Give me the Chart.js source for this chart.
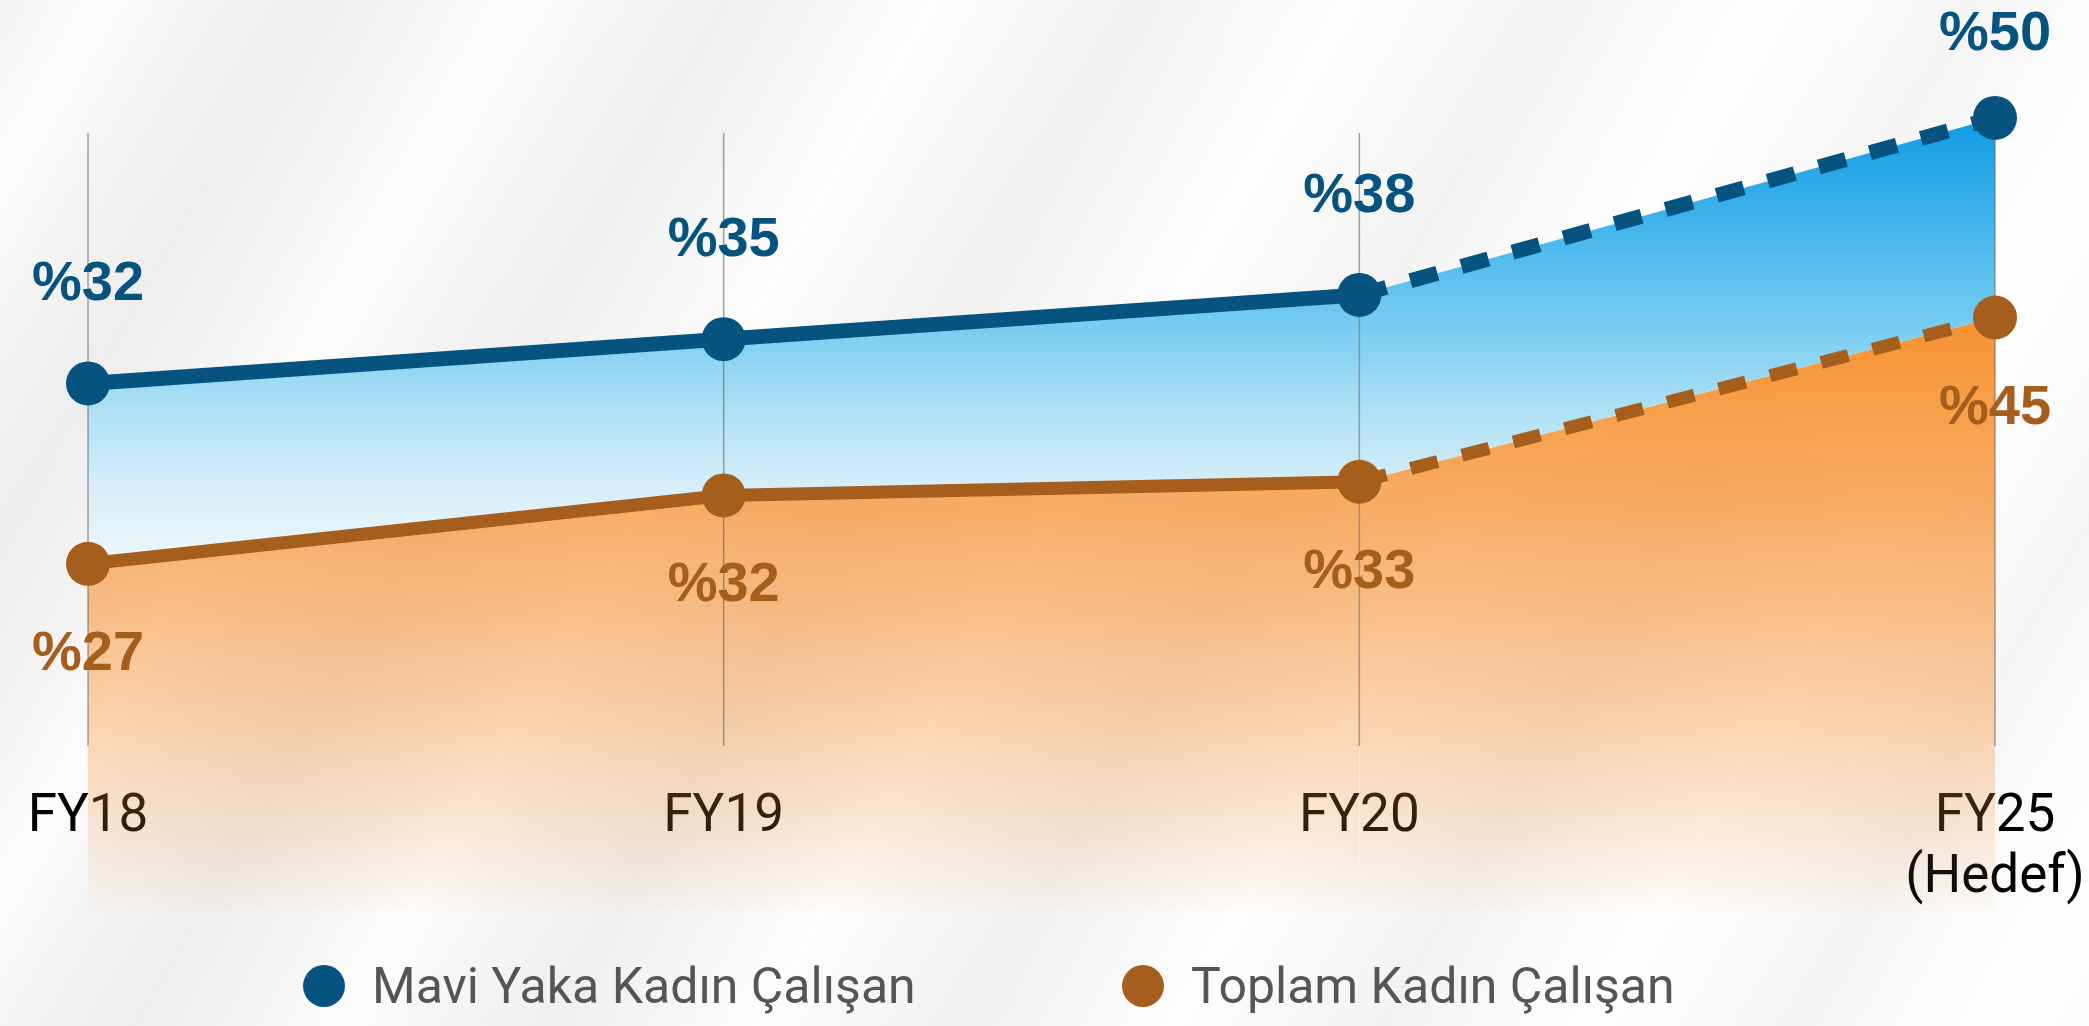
<!DOCTYPE html>
<html>
<head>
    <title>Kadın Çalışan Oranı</title>
    <script src="https://cdn.jsdelivr.net/npm/chart.js"></script>
    <style>
        body { margin: 0; background: #f7f7f7; }
        #wrap {
            position: relative; width: 2089px; height: 1026px; overflow: hidden;
            background-color: #f6f6f6;
            background-image:
                repeating-linear-gradient(120deg, rgba(255,255,255,0) 0px, rgba(255,255,255,0.75) 90px, rgba(255,255,255,0) 180px, rgba(0,0,0,0.022) 270px, rgba(255,255,255,0) 360px),
                linear-gradient(90deg, #f3f3f3, #fbfbfb);
        }
        #chartBox { position: absolute; left: 0; top: 0; width: 2089px; height: 1026px; }
        .legend-item {
            position: absolute; top: 959px; height: 54px;
            display: flex; align-items: center;
            font-family: Roboto, sans-serif; font-size: 50px; line-height: 54px; color: #555;
            white-space: nowrap;
        }
        .legend-dot { width: 42px; height: 42px; border-radius: 50%; margin-right: 27px; }
    </style>
</head>
<body>
    <div id="wrap">
        <div id="chartBox"><canvas id="lineChart"></canvas></div>
        <div id="legend"></div>
    </div>

    <script>
        const years = ['FY18', 'FY19', 'FY20', ['FY25', '(Hedef)']];
        const maviYaka = [32, 35, 38, 50];
        const toplamKadin = [27, 32, 33, 45];
        const seriesNames = ['Mavi Yaka Kadın Çalışan', 'Toplam Kadın Çalışan'];

        const BLUE = '#06537f';
        const BROWN = '#a55e1b';

        // segment into a target year is dashed
        function isTarget(i) {
            const l = years[i];
            return Array.isArray(l) && l.includes('(Hedef)');
        }

        function vGradient(chart, stops) {
            const { ctx, chartArea } = chart;
            if (!chartArea) return 'transparent';
            const g = ctx.createLinearGradient(0, chartArea.top, 0, chartArea.bottom);
            stops.forEach(s => g.addColorStop(s[0], s[1]));
            return g;
        }

        const blueStops = [
            [0, '#0996df'], [0.111, '#129ce3'], [0.211, '#3ab1ea'], [0.322, '#6cc8f0'],
            [0.433, '#ace0f5'], [0.522, '#d6eef9'], [0.622, '#f2f9fc'], [1, '#ffffff']
        ];
        const orangeStops = [
            [0, 'rgba(244,140,38,1)'], [0.333, 'rgba(246,146,48,1)'], [0.544, 'rgba(247,150,58,0.78)'],
            [0.678, 'rgba(247,150,60,0.58)'], [0.8, 'rgba(247,150,60,0.38)'],
            [0.911, 'rgba(247,150,60,0.18)'], [1, 'rgba(247,150,60,0.02)']
        ];

        // thin vertical lines, drawn over the fills but under lines/points
        const gridLines = {
            id: 'gridLines',
            beforeDatasetsDraw(chart) {
                const xs = chart.scales.x;
                const c = chart.ctx;
                c.save();
                c.strokeStyle = 'rgba(100,100,100,0.6)';
                c.lineWidth = 1.5;
                xs.ticks.forEach((t, i) => {
                    const px = xs.getPixelForTick(i);
                    c.beginPath();
                    c.moveTo(px, 133);
                    c.lineTo(px, 746);
                    c.stroke();
                });
                c.restore();
            }
        };

        const valueLabels = {
            id: 'valueLabels',
            afterDatasetsDraw(chart) {
                const c = chart.ctx;
                c.save();
                c.font = 'bold 56px "Liberation Sans", Arial, sans-serif';
                c.textAlign = 'center';
                c.textBaseline = 'alphabetic';
                chart.data.datasets.forEach((ds, di) => {
                    const meta = chart.getDatasetMeta(di);
                    c.fillStyle = ds.borderColor;
                    meta.data.forEach((pt, i) => {
                        const y = ds.labelSide === 'above' ? Math.max(pt.y - 83, 50) : pt.y + 106;
                        c.fillText('%' + ds.data[i], pt.x, y);
                    });
                });
                c.restore();
            }
        };

        function makeDataset(label, data, color, axis, fill, side) {
            return {
                label: label,
                data: data,
                yAxisID: axis,
                borderColor: color,
                borderWidth: 15,
                pointRadius: 22,
                pointHoverRadius: 22,
                pointBackgroundColor: color,
                pointBorderWidth: 0,
                tension: 0,
                fill: fill,
                labelSide: side,
                segment: {
                    borderDash: ctx => isTarget(ctx.p1DataIndex) ? [28, 25] : undefined
                }
            };
        }

        const blueSet = makeDataset(seriesNames[0], maviYaka, BLUE, 'y', '+1', 'above');
        blueSet.backgroundColor = ctx => vGradient(ctx.chart, blueStops);
        const orangeSet = makeDataset(seriesNames[1], toplamKadin, BROWN, 'y2', 'start', 'below');
        orangeSet.backgroundColor = ctx => vGradient(ctx.chart, orangeStops);
        orangeSet.borderWidth = 13;

        new Chart(document.getElementById('lineChart'), {
            type: 'line',
            data: { labels: years, datasets: [blueSet, orangeSet] },
            plugins: [gridLines, valueLabels],
            options: {
                responsive: true,
                maintainAspectRatio: false,
                animation: false,
                layout: { padding: { left: 88, right: 94, top: 10, bottom: 116 } },
                plugins: {
                    legend: { display: false },
                    tooltip: { enabled: false },
                    filler: { drawTime: 'beforeDatasetsDraw' }
                },
                scales: {
                    x: {
                        position: { y: 4.6 },
                        offset: false,
                        grid: { display: false, drawTicks: false },
                        border: { display: false },
                        ticks: {
                            padding: 0,
                            autoSkip: false,
                            maxRotation: 0,
                            color: '#000',
                            font: { family: 'Roboto', size: 53, lineHeight: 1.15 }
                        }
                    },
                    y: { display: false, min: -3.7, max: 56.5 },
                    y2: { display: false, min: 1.7, max: 66.6 }
                }
            }
        });

        // html legend
        const legendDiv = document.getElementById('legend');
        const legendLeft = [303, 1122];
        [BLUE, BROWN].forEach((col, i) => {
            const item = document.createElement('div');
            item.className = 'legend-item';
            item.style.left = legendLeft[i] + 'px';
            item.innerHTML = `<span class="legend-dot" style="background:${col}"></span><span>${seriesNames[i]}</span>`;
            legendDiv.appendChild(item);
        });
    </script>
</body>
</html>
